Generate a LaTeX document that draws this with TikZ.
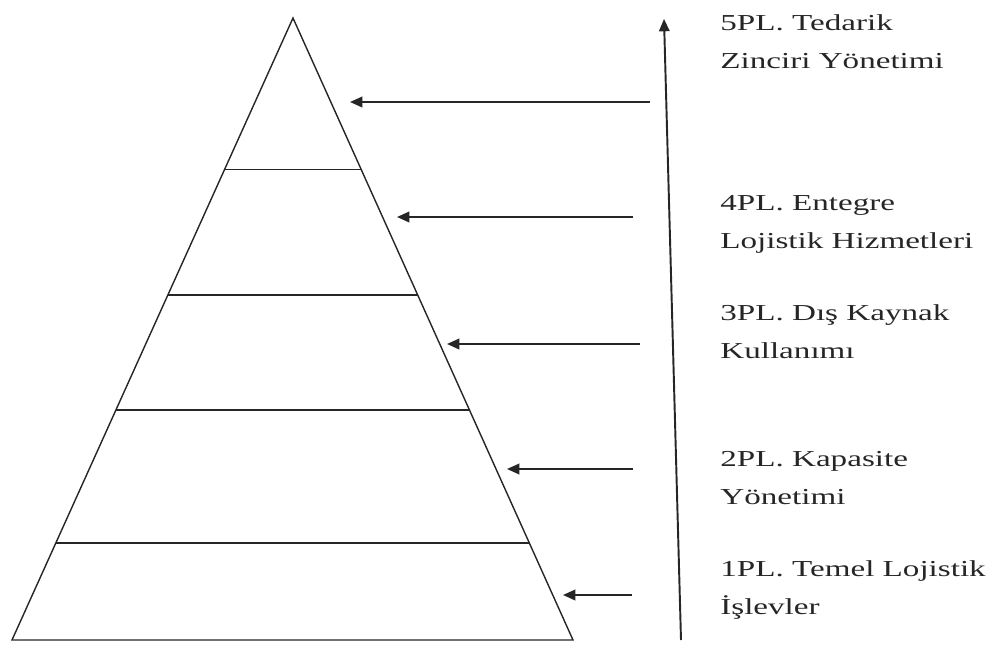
\documentclass[tikz,border=0pt]{standalone}
\usepackage{fontspec}
\setmainfont{Liberation Serif}[FakeStretch=1.45]
\usetikzlibrary{arrows.meta,calc}

\begin{document}
\begin{tikzpicture}[x=0.02cm, y=-0.02cm,
  edge/.style={line width=0.8pt, black!85},
  pointer/.style={-{Triangle[length=7pt,width=6pt]}, line width=1.1pt, black!85},
  lbl/.style={anchor=base west, inner sep=0pt, align=left, font=\fontsize{13}{21.5}\selectfont, text=black!85}]
\useasboundingbox (0,0) rectangle (994,646);

% Pyramid
\coordinate (apex) at (293,18);
\coordinate (bl) at (12,640);
\coordinate (br) at (573,640);
\draw[edge, line join=miter] (bl) -- (apex) -- (br) -- cycle;

% Level lines
\foreach \t in {0.244,0.445,0.630,0.844} {
  \draw[edge] ($(apex)!\t!(bl)$) -- ($(apex)!\t!(br)$);
}

% Labels (anchored at the baseline of the second line)
\node[lbl] (pl5) at (720,68) {5PL. Tedarik\\Zinciri Yönetimi};
\node[lbl] (pl4) at (720,248) {4PL. Entegre\\Lojistik Hizmetleri};
\node[lbl] (pl3) at (720,358) {3PL. Dış Kaynak\\Kullanımı};
\node[lbl] (pl2) at (720,504) {2PL. Kapasite\\Yönetimi};
\node[lbl] (pl1) at (720,614) {1PL. Temel Lojistik\\İşlevler};

% Arrows into the pyramid
\foreach \n/\y/\xs/\xe in {5/102/650/350, 4/217/633/397, 3/344/640/447, 2/469/633/507, 1/595/632/563} {
  \coordinate (s\n) at (\xs,\y);
  \coordinate (e\n) at (\xe,\y);
  \draw[pointer] (s\n) -- (e\n);
}

% Vertical arrow
\coordinate (low) at (681,640);
\coordinate (high) at (664,19);
\draw[pointer] (low) -- (high);
\end{tikzpicture}
\end{document}
